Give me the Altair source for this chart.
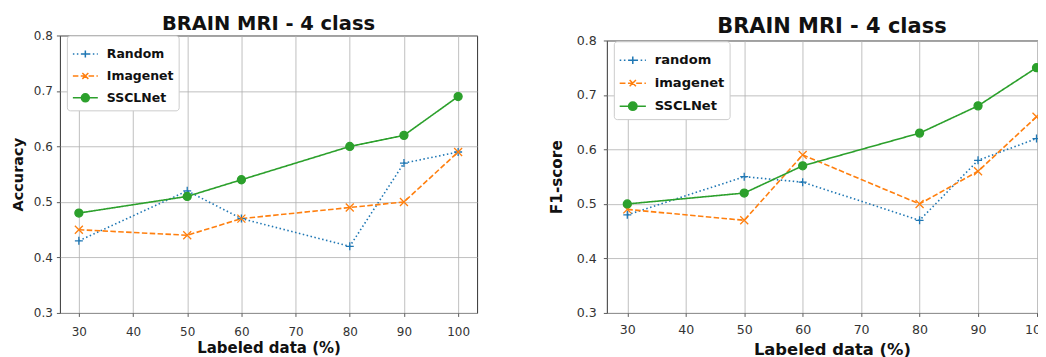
import altair as alt
import pandas as pd

labeled = [30, 50, 60, 80, 90, 100]

acc_names = ["Random", "Imagenet", "SSCLNet"]
acc_random = [0.43, 0.52, 0.47, 0.42, 0.57, 0.59]
acc_imagenet = [0.45, 0.44, 0.47, 0.49, 0.50, 0.59]
acc_ssclnet = [0.48, 0.51, 0.54, 0.60, 0.62, 0.69]

f1_names = ["random", "imagenet", "SSCLNet"]
f1_random = [0.48, 0.55, 0.54, 0.47, 0.58, 0.62]
f1_imagenet = [0.49, 0.47, 0.59, 0.50, 0.56, 0.66]
f1_ssclnet = [0.50, 0.52, 0.57, 0.63, 0.68, 0.75]

title_text = "BRAIN MRI - 4 class"
x_title = "Labeled data (%)"
y_ticks = [0.3, 0.4, 0.5, 0.6, 0.7, 0.8]
x_ticks = [30, 40, 50, 60, 70, 80, 90, 100]

COLORS = ["#1f77b4", "#ff7f0e", "#2ca02c"]
FILLS = ["rgba(0,0,0,0)", "rgba(0,0,0,0)", "#2ca02c"]
DASHES = [[1.5, 2.5], [5.5, 2.4], [1, 0]]
MARKERS = ["M-1,0L1,0M0,-1L0,1", "M-1,-1L1,1M-1,1L1,-1", "circle"]
SIZES = [64, 64, 85]


def dash_path(on, off):
    parts = []
    x = -1.0
    while x < 1.0:
        x2 = min(x + on, 1.0)
        parts.append(f"M{x:.3f},0L{x2:.3f},0")
        x += on + off
    return "".join(parts)


LEG_PATHS = [
    dash_path(0.12, 0.2) + "M-0.28,0L0.28,0M0,-0.28L0,0.28",
    dash_path(0.44, 0.19) + "M-0.24,-0.24L0.24,0.24M-0.24,0.24L0.24,-0.24",
    "M-1,0L1,0M-0.32,0A0.32,0.32 0 1,0 0.32,0A0.32,0.32 0 1,0 -0.32,0Z",
]

FONT = "DejaVu Sans"


def make_df(names, series):
    rows = []
    for name, vals in zip(names, series):
        for xv, yv in zip(labeled, vals):
            rows.append({"x": xv, "y": yv, "method": name})
    return pd.DataFrame(rows)


def panel(names, series, ytitle, width, height, s, title, cfg):
    df = make_df(names, series)
    xs = alt.X("x:Q",
               scale=alt.Scale(domain=[26.5, 103.5], nice=False, zero=False),
               axis=alt.Axis(values=x_ticks, title=x_title, format="d",
                             labelFontSize=12 * s, titleFontSize=cfg["xtitle_size"],
                             labelPadding=cfg["xlabel_pad"], titlePadding=cfg["xtitle_pad"]))
    ys = alt.Y("y:Q",
               scale=alt.Scale(domain=[0.3, 0.8], nice=False, zero=False),
               axis=alt.Axis(values=y_ticks, title=ytitle, format=".1f",
                             labelFontSize=12 * s, titleFontSize=cfg["ytitle_size"],
                             labelPadding=cfg["ylabel_pad"], titlePadding=cfg["ytitle_pad"]))
    base = alt.Chart(df)
    lines = base.mark_line(strokeWidth=1.6).encode(
        x=xs, y=ys,
        color=alt.Color("method:N", scale=alt.Scale(domain=names, range=COLORS), legend=None),
        strokeDash=alt.StrokeDash("method:N", scale=alt.Scale(domain=names, range=DASHES), legend=None),
    )
    pts = base.mark_point(opacity=1, strokeWidth=1.3).encode(
        x=xs, y=ys,
        shape=alt.Shape("method:N", scale=alt.Scale(domain=names, range=MARKERS), legend=None),
        stroke=alt.Stroke("method:N", scale=alt.Scale(domain=names, range=COLORS), legend=None),
        fill=alt.Fill("method:N", scale=alt.Scale(domain=names, range=FILLS), legend=None),
        size=alt.Size("method:N", scale=alt.Scale(domain=names, range=SIZES), legend=None),
    )
    leg = alt.Legend(orient="none", legendX=7, legendY=cfg["legend_y"], title=None,
                     padding=5, strokeColor="#cccccc", fillColor="white",
                     cornerRadius=3, labelFont=FONT, labelFontSize=12.5 * s,
                     labelFontWeight="bold", labelColor="#111111",
                     symbolSize=625 * s * s, symbolStrokeWidth=1.5,
                     labelOffset=8, rowPadding=2)
    legend_layer = base.transform_filter("false").mark_point(opacity=1, strokeWidth=1.5).encode(
        shape=alt.Shape("method:N", scale=alt.Scale(domain=names, range=LEG_PATHS), legend=leg),
        stroke=alt.Stroke("method:N", scale=alt.Scale(domain=names, range=COLORS), legend=leg),
        fill=alt.Fill("method:N", scale=alt.Scale(domain=names, range=FILLS), legend=leg),
    )
    return alt.layer(lines, pts, legend_layer).resolve_scale(
        shape="independent", stroke="independent", fill="independent", size="independent"
    ).properties(width=width, height=height, title=title)


def spacer(h):
    # empty, invisible block placed above a panel to set its vertical position
    return alt.Chart(pd.DataFrame({"x": []})).transform_filter("false").mark_point(opacity=0).properties(
        width=1, height=h, view=alt.ViewBackground(stroke="transparent"))


left_title = alt.TitleParams(title_text, font=FONT, fontSize=19.5, fontWeight="bold",
                             color="#111111", offset=-5)
right_title = alt.TitleParams(title_text, font=FONT, fontSize=21, fontWeight="bold",
                              color="#111111", offset=-3)

left = panel(acc_names, [acc_random, acc_imagenet, acc_ssclnet], "Accuracy",
             418, 278, 1.0, left_title,
             {"xtitle_size": 15, "xlabel_pad": 10, "xtitle_pad": 3, "ytitle_size": 14.5,
              "ytitle_pad": 8, "ylabel_pad": 4, "legend_y": 0})
right = panel(f1_names, [f1_random, f1_imagenet, f1_ssclnet], "F1-score",
              451, 273, 1.05, right_title,
              {"xtitle_size": 16.4, "xlabel_pad": 7, "xtitle_pad": 5.3, "ytitle_size": 15.3,
               "ytitle_pad": 11.4, "ylabel_pad": 7, "legend_y": 0.8})

left_col = alt.vconcat(spacer(1), left, spacing=0)
right_col = alt.vconcat(spacer(3.5), right, spacing=0)

chart = alt.hconcat(left_col, right_col, spacing=71).resolve_scale(
    x="independent", y="independent", color="independent", strokeDash="independent",
    shape="independent", stroke="independent", fill="independent", size="independent",
).properties(
    padding={"left": 1, "top": 2.2, "right": -20, "bottom": 0},
).configure_axis(
    labelFont=FONT, titleFont=FONT, titleFontWeight="bold", labelColor="#333333",
    titleColor="#111111", domain=False, tickColor="#333333", tickSize=3.5, tickWidth=0.8,
    gridColor="#b0b0b0", gridWidth=0.8,
).configure_view(
    stroke="#333333", strokeWidth=1,
)

chart.save("out.html", embed_options={"renderer": "svg", "actions": False})
